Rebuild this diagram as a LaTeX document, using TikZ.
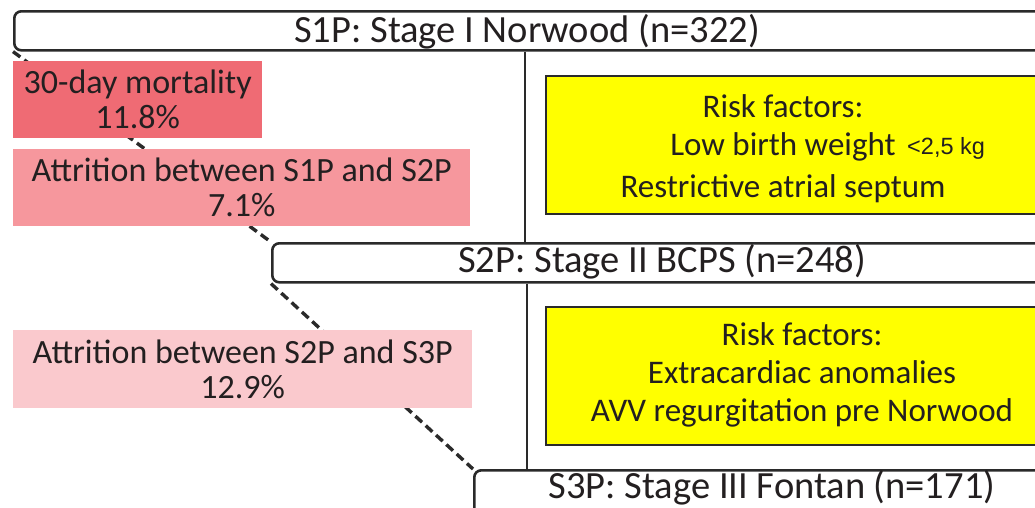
\documentclass[tikz,border=0pt]{standalone}
\usepackage{fontspec}
\setmainfont{Carlito}
\newfontfamily\arialf{Liberation Sans}
\definecolor{txt}{HTML}{231F20}
\definecolor{edge}{HTML}{2A2A2A}
\definecolor{red1}{HTML}{EF6B74}
\definecolor{red2}{HTML}{F6979D}
\definecolor{red3}{HTML}{FAC9CD}
\definecolor{yel}{HTML}{FFFF00}
\tikzset{
  stagebox/.style={draw=edge, line width=2.6pt, rounded corners=7pt, fill=white, inner sep=0pt, anchor=north west},
  pinkbox/.style={inner sep=0pt, anchor=north west},
  riskbox/.style={draw=edge, line width=2.2pt, fill=yel, inner sep=0pt, anchor=north west},
  lbl/.style={text=txt, inner sep=0pt, font=\fontsize{38.5}{40}\selectfont},
  plbl/.style={text=txt, inner sep=0pt, align=center, font=\fontsize{34}{35}\selectfont},
  rlbl/.style={text=txt, inner sep=0pt, font=\fontsize{33}{35}\selectfont},
  dashline/.style={draw=edge, line width=3.4pt, dash pattern=on 9pt off 5pt},
  vline/.style={draw=edge, line width=2.6pt}
}
\begin{document}
\begin{tikzpicture}[x=1pt,y=-1pt]
\useasboundingbox (0,0) rectangle (1035,507);
\clip (0,0) rectangle (1035,507);
\fill[white] (0,0) rectangle (1035,507);
% stage boxes
\node[stagebox, minimum width=1060pt, minimum height=39pt] (S1P) at (13,10) {};
\node[stagebox, minimum width=800pt, minimum height=39pt] (S2P) at (271,242) {};
\node[stagebox, minimum width=600pt, minimum height=60pt] (S3P) at (473,469) {};
% dashed connectors (behind pink boxes)
\draw[dashline] (S1P.south west) -- (S2P.north west);
\draw[dashline] (S2P.south west) -- (S3P.north west);
% vertical lines
\draw[vline] (S1P.south west -| 525,0) -- (S2P.north west -| 525,0);
\draw[vline] (S2P.south west -| 527,0) -- (S3P.north west -| 527,0);
% pink boxes
\node[pinkbox, fill=red1, minimum width=249pt, minimum height=77pt] (M) at (13,61) {};
\node[pinkbox, fill=red2, minimum width=457pt, minimum height=77pt] (A1) at (13,149) {};
\node[pinkbox, fill=red3, minimum width=459pt, minimum height=78pt] (A2) at (13,330) {};
\node[plbl] (Mt) at (M.center) {30-day mortality\\11.8\%};
\node[plbl] (A1t) at (A1.center) {Attrition between S1P and S2P\\7.1\%};
\node[plbl] (A2t) at (A2.center) {Attrition between S2P and S3P\\12.9\%};
% risk boxes
\node[riskbox, minimum width=600pt, minimum height=138pt] (R1) at (545,75) {};
\node[riskbox, minimum width=600pt, minimum height=138pt] (R2) at (545,306) {};
\node[rlbl] (R1a) at (783,106) {Risk factors:};
\node[rlbl] (R1b) at (783,147) {Low birth weight};
\node[inner sep=0pt, text=txt, font=\arialf\fontsize{23.5}{26}\selectfont, anchor=west] (R1k) at (907,148) {<2,5 kg};
\node[rlbl] (R1c) at (783,189) {Restrictive atrial septum};
\node[rlbl] (R2a) at (802,334) {Risk factors:};
\node[rlbl] (R2b) at (802,372) {Extracardiac anomalies};
\node[rlbl] (R2c) at (802,413) {AVV regurgitation pre Norwood};
% stage labels
\node[lbl] (S1Pt) at (527,32) {S1P: Stage I Norwood (n=322)};
\node[lbl] (S2Pt) at (662,262) {S2P: Stage II BCPS (n=248)};
\node[lbl] (S3Pt) at (772,488) {S3P: Stage III Fontan (n=171)};
\end{tikzpicture}
\end{document}
